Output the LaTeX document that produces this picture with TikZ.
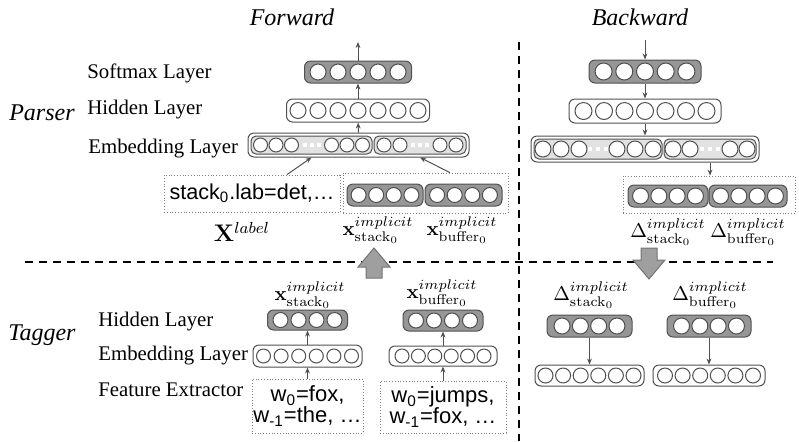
\documentclass[tikz,border=0pt]{standalone}
\usepackage[no-math]{fontspec}
\setmainfont{Liberation Serif}
\setsansfont{Liberation Sans}
\usepackage{amsmath}
\usetikzlibrary{calc}
\usetikzlibrary{arrows.meta}
\definecolor{darkunit}{RGB}{150,150,150}
\definecolor{embunit}{RGB}{226,226,226}
\definecolor{edge}{RGB}{80,80,80}

\begin{document}
\begin{tikzpicture}[x=0.5pt, y=-0.5pt,
	unit/.style={circle, draw=edge, fill=white, line width=0.5pt, inner sep=0pt},
	layer/.style={draw=edge, rounded corners=3pt, line width=0.5pt, inner sep=0pt},
	hidden/.style={layer, fill=darkunit},
	plain/.style={layer, fill=white},
	embed/.style={layer, fill=embunit, rounded corners=2.5pt},
	featbox/.style={draw=gray, densely dotted, line width=0.4pt, inner sep=0pt},
	arr/.style={draw=edge, line width=0.5pt, -{Stealth[length=3pt,width=2.4pt]}},
	sep/.style={line width=0.6pt, dash pattern=on 4pt off 3pt},
	bigarrow/.style={draw=edge!80, fill=gray!75, line width=0.5pt},
	title/.style={font=\fontsize{12}{14}\selectfont\itshape},
	lbl/.style={font=\fontsize{10.4}{12}\selectfont, anchor=west, inner sep=0pt},
	vec/.style={font=\fontsize{10}{12}\selectfont, inner sep=0pt},
	feat/.style={font=\sffamily\fontsize{11}{10.5}\selectfont, align=center}]

	\newcommand{\layerunits}[4]{%
		\foreach \k in {1,...,#2}
			\node[unit, minimum size=#4] (#1-\k) at ($(#1)+({(\k-(#2+1)/2)*#3},0)$) {};
	}
	\newcommand{\gapdots}[2]{%
		\foreach \d in {-1,0,1}
			\fill[white] ($(#1)+(\d*#2-2,-2)$) rectangle ++(4,4);
	}

	\useasboundingbox (0,0) rectangle (799,441);

	% separators
	\draw[sep] (25,262) -- (773,262);
	\draw[sep] (519,42) -- (519,441);

	% titles
	\node[title] (fwd) at (292,17) {Forward};
	\node[title] (bwd) at (640,17) {Backward};
	\node[title] (parser) at (42,113) {Parser};
	\node[title] (tagger) at (42,335) {Tagger};

	% layer names
	\node[lbl] (pSoft) at (87,73) {Softmax Layer};
	\node[lbl] (pHid) at (87,110) {Hidden Layer};
	\node[lbl] (pEmb) at (88,149) {Embedding Layer};
	\node[lbl] (tHid) at (98,322) {Hidden Layer};
	\node[lbl] (tEmb) at (98,356) {Embedding Layer};
	\node[lbl] (tFeat) at (98,390) {Feature Extractor};

	% forward parser
	\coordinate (fout) at (358,42);
	\node[hidden, minimum width=53.5pt, minimum height=11pt] (fsoft) at (358,72) {};
	\layerunits{fsoft}{5}{20}{8pt}
	\node[plain, minimum width=71.5pt, minimum height=11.5pt] (fhid) at (358,110.5) {};
	\layerunits{fhid}{7}{20}{8pt}
	\node[plain, minimum width=110.5pt, minimum height=12pt] (femb) at (358.5,145) {};
	\node[embed, minimum width=60.5pt, minimum height=9pt] (fembA) at (311.5,145) {};
	\foreach \dx [count=\k] in {-51,-35.5,-20,20,35.5,51}
		\node[unit, minimum size=7pt] (fembA-\k) at ($(fembA)+(\dx,0)$) {};
	\gapdots{fembA}{7}
	\node[embed, minimum width=46pt, minimum height=9pt] (fembB) at (420,145) {};
	\foreach \dx [count=\k] in {-36,-20,20,36}
		\node[unit, minimum size=7pt] (fembB-\k) at ($(fembB)+(\dx,0)$) {};
	\gapdots{fembB}{7}

	\node[featbox, minimum width=88pt, minimum height=18.5pt, font=\sffamily\fontsize{10.8}{13}\selectfont] (flab) at (252,193.5) {stack\textsubscript{0}.lab=det,…};
	\node[featbox, minimum width=82.5pt, minimum height=20pt] (fimp) at (425.5,193) {};
	\node[hidden, minimum width=38pt, minimum height=11pt] (fimpA) at (385,195) {};
	\layerunits{fimpA}{4}{17.6}{7.5pt}
	\node[hidden, minimum width=38.5pt, minimum height=11pt] (fimpB) at (463.5,195) {};
	\layerunits{fimpB}{4}{17.6}{7.5pt}

	\node[vec, font=\fontsize{12}{14}\selectfont] (xlab) at (242,232) {$\mathbf{X}^{label}$};
	\node[vec] (xstack) at (378,230) {$\mathbf{x}^{implicit}_{\mathrm{stack}_0}$};
	\node[vec] (xbuf) at (462,230) {$\mathbf{x}^{implicit}_{\mathrm{buffer}_0}$};

	\draw[arr] (fsoft) -- (fout);
	\draw[arr] (fhid) -- (fsoft);
	\draw[arr] (femb) -- (fhid);
	\draw[arr] ($(flab.north)+(35,0)$) -- (fembA.south |- femb.south);
	\draw[arr] ($(fimp.north)+(24.5,0)$) -- (fembB.south |- femb.south);

	% backward parser
	\coordinate (bin) at (645,40);
	\node[hidden, minimum width=56pt, minimum height=11.5pt] (bsoft) at (645,71.5) {};
	\layerunits{bsoft}{5}{20.7}{8.5pt}
	\node[plain, minimum width=76pt, minimum height=12pt] (bhid) at (645,111) {};
	\layerunits{bhid}{7}{20.5}{8.5pt}
	\node[plain, minimum width=114pt, minimum height=13pt] (bemb) at (645,149) {};
	\node[embed, minimum width=64pt, minimum height=10pt] (bembA) at (598,149) {};
	\foreach \dx [count=\k] in {-55,-37,-19,19,37,55}
		\node[unit, minimum size=8pt] (bembA-\k) at ($(bembA)+(\dx,0)$) {};
	\gapdots{bembA}{8}
	\node[embed, minimum width=46pt, minimum height=10pt] (bembB) at (710,149) {};
	\foreach \dx [count=\k] in {-37,-20,20,37}
		\node[unit, minimum size=8pt] (bembB-\k) at ($(bembB)+(\dx,0)$) {};
	\gapdots{bembB}{8}

	\node[featbox, minimum width=86pt, minimum height=18.5pt] (bimp) at (709,194.5) {};
	\node[hidden, minimum width=40pt, minimum height=11pt] (bimpA) at (668,196) {};
	\layerunits{bimpA}{4}{18.3}{8pt}
	\node[hidden, minimum width=39pt, minimum height=11pt] (bimpB) at (748,196) {};
	\layerunits{bimpB}{4}{18.3}{8pt}

	\node[vec] (dstack) at (668,232) {$\Delta^{implicit}_{\mathrm{stack}_0}$};
	\node[vec] (dbuf) at (748,232) {$\Delta^{implicit}_{\mathrm{buffer}_0}$};

	\draw[arr] (bin) -- (bsoft);
	\draw[arr] (bsoft) -- (bhid);
	\draw[arr] (bhid) -- (bemb);
	\draw[arr] (bembB.south |- bemb.south) -- (bembB.south |- bimp.north);

	% forward tagger
	\node[vec] (tsLab) at (310,295) {$\mathbf{x}^{implicit}_{\mathrm{stack}_0}$};
	\node[hidden, minimum width=40pt, minimum height=10pt] (tsHid) at (307.5,320) {};
	\layerunits{tsHid}{4}{18}{7.5pt}
	\node[plain, minimum width=54.5pt, minimum height=11pt] (tsEmb) at (307.5,356) {};
	\layerunits{tsEmb}{6}{17.6}{7pt}
	\node[featbox, feat, minimum width=55.5pt, minimum height=27pt] (tsFeat) at (307.5,406) {w\textsubscript{0}=fox,\\w\textsubscript{-1}=the, …};

	\node[vec] (tbLab) at (442,293) {$\mathbf{x}^{implicit}_{\mathrm{buffer}_0}$};
	\node[hidden, minimum width=40pt, minimum height=10.5pt] (tbHid) at (443,320.5) {};
	\layerunits{tbHid}{4}{18}{7.5pt}
	\node[plain, minimum width=54pt, minimum height=10pt] (tbEmb) at (443,356) {};
	\layerunits{tbEmb}{6}{16.4}{7pt}
	\node[featbox, feat, minimum width=63pt, minimum height=26pt] (tbFeat) at (443,407) {w\textsubscript{0}=jumps,\\w\textsubscript{-1}=fox, …};

	\draw[arr] (tsFeat) -- (tsEmb);
	\draw[arr] (tsEmb) -- (tsHid);
	\draw[arr] (tbFeat) -- (tbEmb);
	\draw[arr] (tbEmb) -- (tbHid);

	% backward tagger
	\node[vec] (bsLab) at (591,295) {$\Delta^{implicit}_{\mathrm{stack}_0}$};
	\node[hidden, minimum width=42.5pt, minimum height=11pt] (bsHid) at (589.5,326) {};
	\layerunits{bsHid}{4}{18.3}{8pt}
	\node[plain, minimum width=54.5pt, minimum height=10.5pt] (bsEmb) at (589.5,375.5) {};
	\layerunits{bsEmb}{6}{17.6}{7.5pt}

	\node[vec] (bbLab) at (710,295) {$\Delta^{implicit}_{\mathrm{buffer}_0}$};
	\node[hidden, minimum width=42pt, minimum height=11pt] (bbHid) at (709,326) {};
	\layerunits{bbHid}{4}{18.3}{8pt}
	\node[plain, minimum width=56pt, minimum height=10.5pt] (bbEmb) at (709,375.5) {};
	\layerunits{bbEmb}{6}{17.6}{7.5pt}

	\draw[arr] (bsHid) -- (bsEmb);
	\draw[arr] (bbHid) -- (bbEmb);

	% block arrows across the layers
	\filldraw[bigarrow] (374,248) -- (390,267) -- (382,267) -- (382,278) -- (366,278) -- (366,267) -- (358,267) -- cycle;
	\filldraw[bigarrow] (649,279) -- (665,260) -- (657,260) -- (657,248) -- (641,248) -- (641,260) -- (633,260) -- cycle;
\end{tikzpicture}
\end{document}
